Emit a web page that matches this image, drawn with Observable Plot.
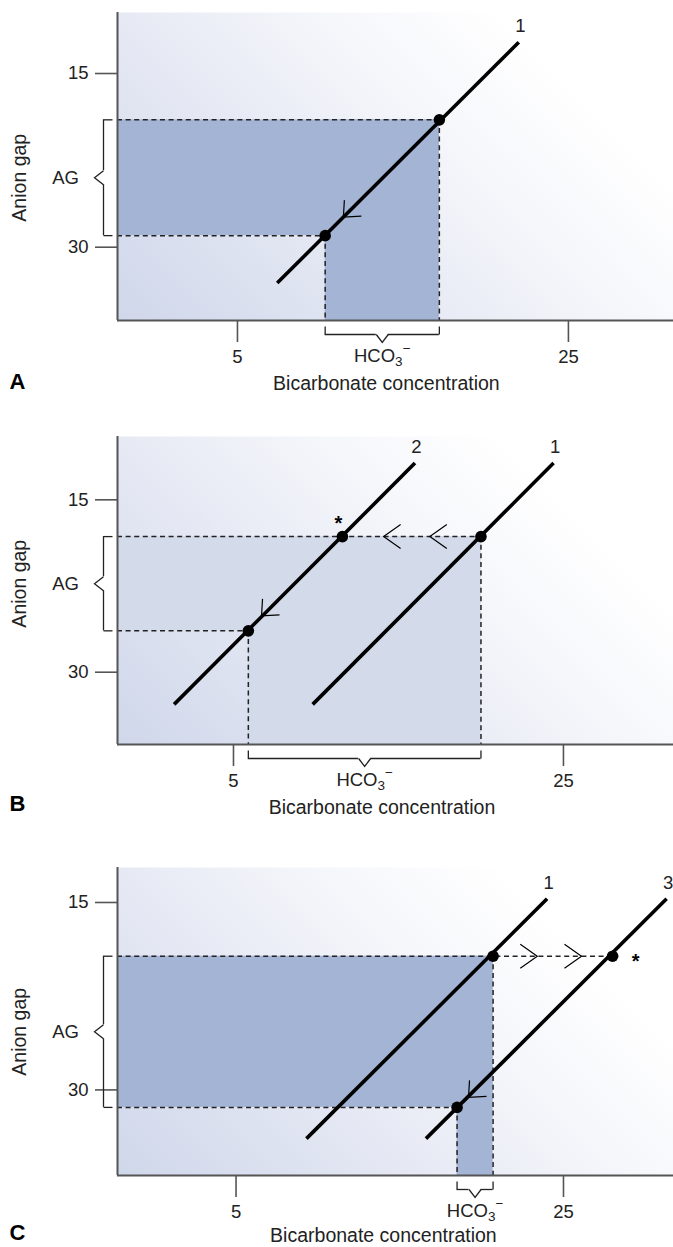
<!DOCTYPE html>
<html>
<head>
<meta charset="utf-8">
<script src="https://cdn.jsdelivr.net/npm/d3@7"></script>
<script src="https://cdn.jsdelivr.net/npm/@observablehq/plot@0.6"></script>
<style>
  html, body { margin: 0; padding: 0; background: #fff; }
  #chart { width: 673px; height: 1247px; overflow: hidden; }
  #chart svg { display: block; }
</style>
</head>
<body>
<div id="chart"></div>
<script>
// ---------------- data ----------------
const panelLetters = ["A", "B", "C"];
const xTicks = [5, 25];
const yTicks = [15, 30];
const xTitle = "Bicarbonate concentration";
const yTitle = "Anion gap";
const agLabel = "AG";
const hco3Label = "HCO3\u2212";

// anion gap bracket (per panel)
const agTop    = [19.0, 18.2, 19.3];
const agBottom = [29.0, 26.4, 31.4];
// bicarbonate bracket (per panel)
const hco3Low  = [10.3, 5.9, 18.5];
const hco3High = [17.2, 20.0, 20.7];
// where the upper dashed row ends
const agRowEnd = [17.2, 20.0, 28.0];

// buffer lines
const lineIds   = ["1", "2", "1", "1", "3"];
const linePanel = ["A", "B", "B", "C", "C"];
const lineX1 = [7.4, 1.4, 9.8, 9.3, 16.6];
const lineY1 = [33.1, 32.8, 32.8, 33.9, 33.9];
const lineX2 = [22.0, 16.0, 24.4, 24.0, 31.3];
const lineY2 = [12.3, 11.8, 11.8, 14.7, 14.7];

// starred points
const starPanel = ["B", "C"];
const starX = [11.6, 28.0];
const starY = [18.2, 19.3];

// direction chevrons
const chevPanel = ["A", "B", "B", "B", "C", "C", "C"];
const chevX = [11.4, 6.7, 14.1, 16.9, 19.2, 23.4, 26.1];
const chevY = [27.4, 25.1, 18.2, 18.2, 30.6, 19.3, 19.3];
const chevDir = ["down", "down", "left", "left", "down", "right", "right"];

// ---------------- layout / style ----------------
const W = 673;
const layout = [
  {height: 400, marginTop: 12, marginBottom: 80, xDomain: [-2.25, 31.35], yDomain: [9.73, 36.33], shade: "#a3b4d4", starDx: 0, starDy: 0, titleDy: 63, letterDy: 61},
  {height: 420, marginTop: 36, marginBottom: 76, xDomain: [-2.03, 31.67], yDomain: [9.49, 36.29], shade: "#d3daea", starDx: -4, starDy: -13, titleDy: 63, letterDy: 59},
  {height: 427, marginTop: 47, marginBottom: 72, xDomain: [-2.24, 31.72], yDomain: [12.2, 36.85], shade: "#a3b4d4", starDx: 23, starDy: 5, titleDy: 60, letterDy: 57}
];
const FONT = "'Liberation Sans', Arial, Helvetica, sans-serif";
const TXT = "#222";
const AX = "#555";

const sym = (f) => ({draw: f});
const chevronSym = {
  down:  sym(c => { c.moveTo(1, -17); c.lineTo(0, 0); c.lineTo(18, -1); }),
  left:  sym(c => { c.moveTo(17, -12); c.lineTo(0, 0); c.lineTo(17, 12); }),
  right: sym(c => { c.moveTo(-17, -12); c.lineTo(0, 0); c.lineTo(-17, 12); })
};
const notchLeft = sym(c => { c.moveTo(0, -7); c.lineTo(-9, 0); c.lineTo(0, 7); });
const notchDown = sym(c => { c.moveTo(-6, 0); c.lineTo(0, 8); c.lineTo(6, 0); });
const stubRight = sym(c => { c.moveTo(0, 0); c.lineTo(9, 0); });
const stubUp    = sym(c => { c.moveTo(0, 0); c.lineTo(0, -8); });

const lines = lineIds.map((id, i) => ({id, panel: linePanel[i], x1: lineX1[i], y1: lineY1[i], x2: lineX2[i], y2: lineY2[i]}));
const stars = starPanel.map((p, i) => ({panel: p, x: starX[i], y: starY[i]}));
const chevrons = chevPanel.map((p, i) => ({panel: p, x: chevX[i], y: chevY[i], dir: chevDir[i]}));

const chart = document.getElementById("chart");
const NS = "http://www.w3.org/2000/svg";

panelLetters.forEach((letter, i) => {
  const L = layout[i];
  const [xmin, xmax] = L.xDomain;
  const [ymin, ymax] = L.yDomain;
  const top = agTop[i], bot = agBottom[i], lo = hco3Low[i], hi = hco3High[i];
  const agMid = (top + bot) / 2;
  const hMid = (lo + hi) / 2;
  const pLines = lines.filter(d => d.panel === letter);
  const pStars = stars.filter(d => d.panel === letter);
  const pChev = chevrons.filter(d => d.panel === letter);
  const gradId = "bg-" + letter;
  const dash = {stroke: "#222", strokeWidth: 1.5, strokeDasharray: "5,3.6"};
  const brk = {stroke: "#222", strokeWidth: 1.3};

  const marks = [
    Plot.frame({fill: `url(#${gradId})`, stroke: "none"}),
    // shaded regions (anion-gap row and bicarbonate column)
    Plot.rect([0], {x1: xmin, x2: hi, y1: top, y2: bot, fill: L.shade}),
    Plot.rect([0], {x1: lo, x2: hi, y1: top, y2: ymax, fill: L.shade}),
    // dashed guides
    Plot.ruleY([0], {y: top, x1: xmin, x2: agRowEnd[i], ...dash}),
    Plot.ruleY([0], {y: bot, x1: xmin, x2: lo, ...dash}),
    Plot.ruleX([0], {x: hi, y1: top, y2: ymax, ...dash}),
    Plot.ruleX([0], {x: lo, y1: bot, y2: ymax, ...dash}),
    // axis lines
    Plot.ruleX([0], {x: xmin, stroke: AX, strokeWidth: 2}),
    Plot.ruleY([0], {y: ymax, stroke: AX, strokeWidth: 2}),
    Plot.axisX({ticks: xTicks, tickSize: 22, tickPadding: 7, label: null, fontSize: 18.5, stroke: AX, strokeWidth: 1.6, fill: TXT}),
    Plot.axisY({ticks: yTicks, tickSize: 22, tickPadding: 7, label: null, fontSize: 18.5, stroke: AX, strokeWidth: 1.6, fill: TXT}),
    // buffer lines
    Plot.link(pLines, {x1: "x1", y1: "y1", x2: "x2", y2: "y2", stroke: "#000", strokeWidth: 3.6}),
    Plot.text(pLines, {x: "x2", y: "y2", text: "id", dx: 1.5, dy: -16, fontSize: 18.5, fill: TXT}),
    // chevrons
    ...["down", "left", "right"].map(dir =>
      Plot.dot(pChev.filter(d => d.dir === dir), {x: "x", y: "y", symbol: chevronSym[dir], fill: "none", stroke: "#000", strokeWidth: 1.2})),
    // points
    Plot.dot([{x: hi, y: top}, {x: lo, y: bot}, ...pStars], {x: "x", y: "y", r: 5.8, fill: "#000"}),
    Plot.text(pStars, {x: "x", y: "y", text: () => "*", dx: L.starDx, dy: L.starDy, fontSize: 20, fontWeight: "bold", fill: "#000"}),
    // AG bracket
    Plot.ruleX([0], {x: xmin, y1: top, y2: agMid, dx: -14, insetBottom: 7, ...brk}),
    Plot.ruleX([0], {x: xmin, y1: agMid, y2: bot, dx: -14, insetTop: 7, ...brk}),
    Plot.dot([0], {x: xmin, y: agMid, dx: -14, symbol: notchLeft, fill: "none", ...brk}),
    Plot.dot([top, bot], {x: xmin, y: d => d, dx: -14, symbol: stubRight, fill: "none", ...brk}),
    Plot.text([agLabel], {x: xmin, y: agMid, text: d => d, dx: -52, fontSize: 18.5, fill: TXT}),
    // HCO3 bracket
    Plot.ruleY([0], {y: ymax, x1: lo, x2: hMid, dy: 14, insetRight: 6, ...brk}),
    Plot.ruleY([0], {y: ymax, x1: hMid, x2: hi, dy: 14, insetLeft: 6, ...brk}),
    Plot.dot([0], {x: hMid, y: ymax, dy: 14, symbol: notchDown, fill: "none", ...brk}),
    Plot.dot([lo, hi], {x: d => d, y: ymax, dy: 14, symbol: stubUp, fill: "none", ...brk}),
    Plot.text([hco3Label], {x: hMid, y: ymax, text: d => d, dy: 36, fontSize: 18.5, fill: TXT}),
    // titles
    Plot.text([yTitle], {x: xmin, y: agMid, text: d => d, dx: -98, rotate: -90, fontSize: 19.5, fill: TXT}),
    Plot.text([xTitle], {x: 14, y: ymax, text: d => d, dy: L.titleDy, fontSize: 19.5, fill: TXT}),
    Plot.text([letter], {x: xmin, y: ymax, text: d => d, dx: -100, dy: L.letterDy, fontSize: 22, fontWeight: "bold", fill: "#000"})
  ];

  const svg = Plot.plot({
    width: W,
    height: L.height,
    marginTop: L.marginTop,
    marginBottom: L.marginBottom,
    marginLeft: 117,
    marginRight: 0,
    style: {fontFamily: FONT, background: "transparent", overflow: "visible"},
    x: {domain: L.xDomain},
    y: {domain: L.yDomain, reverse: true},
    marks
  });

  // gradient background definition
  const plotBottom = L.height - L.marginBottom;
  const defs = document.createElementNS(NS, "defs");
  const g = document.createElementNS(NS, "linearGradient");
  g.setAttribute("id", gradId);
  g.setAttribute("gradientUnits", "userSpaceOnUse");
  g.setAttribute("x1", 117); g.setAttribute("y1", plotBottom);
  g.setAttribute("x2", 117 + 432); g.setAttribute("y2", plotBottom - 432);
  [["0", "#cfd7ea"], ["0.35", "#e6e9f4"], ["0.6", "#f6f7fb"], ["0.8", "#ffffff"]].forEach(([o, c]) => {
    const s = document.createElementNS(NS, "stop");
    s.setAttribute("offset", o); s.setAttribute("stop-color", c);
    g.appendChild(s);
  });
  defs.appendChild(g);
  svg.insertBefore(defs, svg.firstChild);
  const fr = svg.querySelector('[aria-label="frame"]');
  const frRect = fr && (fr.tagName.toLowerCase() === "rect" ? fr : fr.querySelector("rect"));
  if (frRect) frRect.setAttribute("fill", `url(#${gradId})`);

  // HCO3- with subscript and superscript
  svg.querySelectorAll("text").forEach(t => {
    if (t.textContent === hco3Label) {
      t.textContent = "";
      t.appendChild(document.createTextNode("HCO"));
      const s3 = document.createElementNS(NS, "tspan");
      s3.setAttribute("dy", "4"); s3.setAttribute("font-size", "13.5"); s3.textContent = "3";
      const sm = document.createElementNS(NS, "tspan");
      sm.setAttribute("dy", "-13"); sm.setAttribute("font-size", "13.5"); sm.textContent = "\u2212";
      t.appendChild(s3); t.appendChild(sm);
    }
  });

  chart.appendChild(svg);
});
</script>
</body>
</html>
